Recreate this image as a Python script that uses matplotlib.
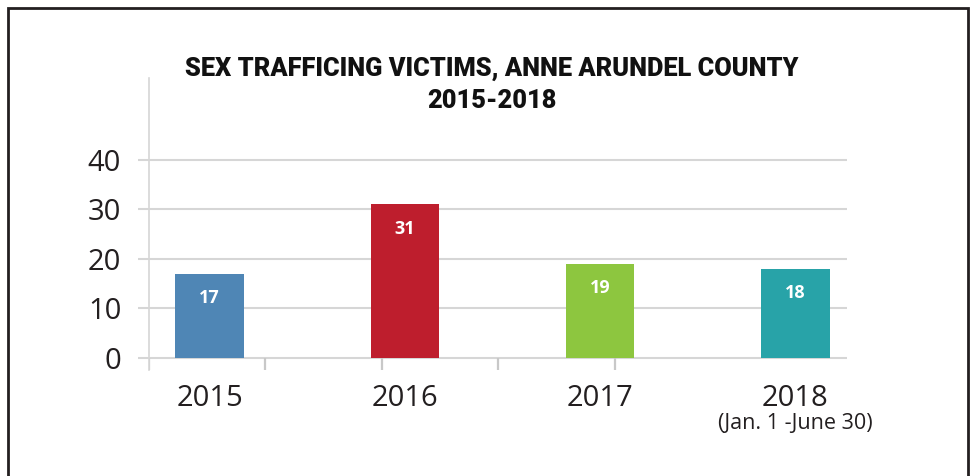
import matplotlib
matplotlib.use('Agg')
import matplotlib.pyplot as plt
from matplotlib.patches import Rectangle
from matplotlib.transforms import blended_transform_factory

years = ['2015', '2016', '2017', '2018']
victims = [17, 31, 19, 18]
colors = ['#4f86b5', '#be1e2d', '#8dc63f', '#28a3a8']
y_ticks = [0, 10, 20, 30, 40]
title = 'SEX TRAFFICING VICTIMS, ANNE ARUNDEL COUNTY\n2015-2018'
note_2018 = '(Jan. 1 -June 30)'

W, H = 971, 476
fig = plt.figure(figsize=(W / 100, H / 100), dpi=100)
# axes box in pixels: left 149, right 847, top 78, bottom 370
ax = fig.add_axes([149 / W, 1 - 370 / H, (847 - 149) / W, (370 - 78) / H])
y_low = -2.42

x = list(range(len(years)))
ax.bar(x, victims, width=0.35, color=colors, zorder=3)
for xi, v in zip(x, victims):
    ax.annotate(str(v), (xi, v), xytext=(0, -11), textcoords='offset points',
                ha='center', va='top', color='white', fontsize=13,
                fontweight='bold', family='Open Sans', zorder=4)

ax.set_xlim(-0.31, 3.264)
ax.set_ylim(y_low, 56.5)
ax.set_yticks(y_ticks)
ax.set_yticklabels([str(t) for t in y_ticks], family='Open Sans', fontsize=21, color='#231f20')
ax.set_xticks(x)
ax.set_xticklabels(years, family='Open Sans', fontsize=21, color='#231f20')

grid_c = '#d6d6d6'
# odd little separator ticks sitting under the baseline
sep = [-0.31 + k * 0.5965 for k in range(5)]
ax.vlines(sep, y_low, 0, colors='#c8c8c8', linewidth=1.6, zorder=2, snap=True)

ax.grid(axis='y', color=grid_c, linewidth=1.5, zorder=0)
ax.tick_params(axis='y', length=8, width=1.5, color=grid_c, pad=12)
ax.tick_params(axis='x', which='major', length=0, pad=10)
for s in ['top', 'right', 'bottom']:
    ax.spines[s].set_visible(False)
ax.spines['left'].set_color(grid_c)
ax.spines['left'].set_linewidth(1.2)

tr = blended_transform_factory(ax.transData, fig.transFigure)
fig.text(3, 1 - 413 / H, note_2018, transform=tr, ha='center', va='top',
         family='Open Sans', fontsize=15.5, color='#231f20')

fig.text(492 / W, 1 - 85 / H, title, ha='center', va='center', linespacing=1.45,
         family='Roboto', fontstretch='condensed', fontweight='heavy', fontsize=18.3,
         color='#111111')

# frame around the graphic (bottom edge runs off the picture)
fig.patches.append(Rectangle((8 / W, -0.05), (968 - 8) / W, 1.05 - 8 / H,
                             transform=fig.transFigure, fill=False,
                             edgecolor='#231f20', linewidth=2))

fig.savefig('out.png', dpi=100)
